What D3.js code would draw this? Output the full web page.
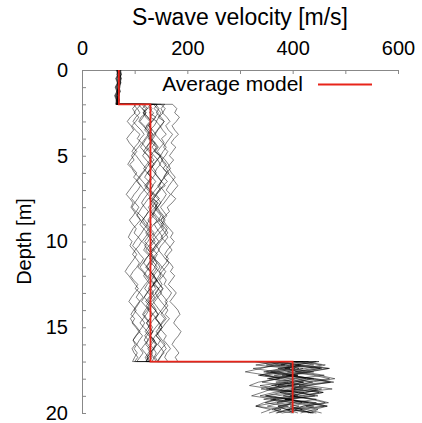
<!DOCTYPE html>
<html>
<head>
<meta charset="utf-8">
<script src="https://cdn.jsdelivr.net/npm/d3@7"></script>
<style>
  body { margin: 0; background: #fff; }
  svg text { font-family: "Liberation Sans", Arial, Helvetica, sans-serif; fill: #000; }
  .axis path, .axis line { stroke: #888; stroke-width: 1; }
</style>
</head>
<body>
<div id="viz"><svg width="422" height="423"></svg></div>
<script>
// sample depths shared by every profile (duplicates at 2 m and 17 m give the jumps)
const topDepths = d3.range(0, 2.001, 0.25)
const midDepths = d3.range(2, 17.001, 0.25)
const botDepths = d3.range(17, 20.001, 0.2)
const depths = topDepths.concat(midDepths, botDepths)

// individual models, m/s
// shallow layer 0-2 m
const topVals = [
  [71,73,70,72,69,68,70,67,69],
  [68,72,74,69,71,66,68,65,67],
  [74,71,75,72,70,73,69,71,68],
  [66,69,65,68,64,67,63,66,65],
  [72,70,73,68,71,67,69,66,68],
  [70,74,71,73,69,71,68,70,67],
  [65,68,64,67,63,66,62,65,64],
  [69,66,70,67,71,68,66,69,66],
  [73,75,72,74,70,72,69,71,70],
  [68,71,67,70,66,69,65,68,66],
  [67,70,66,69,65,68,64,67,65],
  [71,74,70,73,72,70,71,68,70],
  [69,67,71,68,70,67,69,66,68],
  [70,68,72,69,67,70,66,68,67],
  [72,69,73,70,68,71,67,69,66],
  [67,70,68,71,69,66,70,67,69]
]

// middle layer 2-17 m
const midVals = [
  [118,124,116,121,129,122,127,135,128,133,141,136,130,137,126,131,124,119,127,122,130,138,133,145,139,131,136,128,123,131,126,120,114,122,117,125,132,127,121,129,136,142,135,140,133,127,121,128,124,117,123,130,126,134,129,138,132,125,130,123,127],
  [150,158,153,161,167,159,164,172,166,160,155,163,158,151,157,165,170,177,171,165,160,168,162,156,149,155,161,154,159,166,173,168,175,169,162,157,164,159,152,147,154,160,156,163,170,165,158,163,156,150,157,151,146,153,160,155,162,168,161,157,163],
  [172,180,176,185,179,171,176,183,175,169,178,172,166,174,167,160,165,157,151,158,146,140,147,138,143,135,141,148,136,130,137,129,134,127,121,128,135,131,139,133,126,131,124,119,126,133,128,136,141,134,129,123,130,125,119,126,121,128,134,127,122],
  [98,104,99,108,102,95,101,110,105,113,107,100,94,99,91,97,104,98,106,112,118,111,106,100,95,102,97,90,96,103,99,107,113,108,101,96,103,109,104,97,92,98,106,101,110,116,109,103,98,93,100,95,102,108,115,109,104,99,105,100,96],
  [127,133,128,140,134,126,131,124,129,137,143,137,149,142,135,130,124,131,126,119,125,133,128,136,142,138,131,125,132,127,121,128,135,141,147,140,134,128,123,130,137,132,139,145,151,144,138,131,126,133,129,122,128,135,130,137,142,136,129,124,130],
  [132,127,136,130,142,137,129,134,128,139,145,139,147,153,160,154,163,170,176,182,175,169,178,171,162,166,158,150,155,146,140,134,139,131,126,133,128,137,143,138,132,140,135,146,141,133,128,122,129,135,141,147,140,134,129,136,142,137,131,136,141],
  [103,96,101,92,86,93,98,91,85,90,97,104,98,92,87,95,100,108,102,96,90,84,91,97,93,99,106,111,104,97,92,88,95,91,98,104,99,93,87,82,89,95,101,107,100,94,89,96,103,98,92,97,104,110,103,97,101,95,99,106,100],
  [114,121,116,125,131,124,119,127,133,128,122,117,125,130,137,131,126,133,140,134,129,136,144,150,143,148,155,149,156,162,157,150,158,165,171,164,159,167,173,168,176,170,164,172,179,173,167,175,182,186,179,174,181,188,183,176,171,178,184,177,182],
  [143,137,145,139,132,127,134,140,135,129,123,130,137,144,149,142,138,145,151,146,139,133,128,134,126,131,138,143,137,142,148,153,146,140,134,129,136,142,138,146,150,144,137,131,136,129,125,132,139,145,140,147,152,145,139,134,129,136,141,137,133],
  [121,115,122,112,108,116,123,129,122,117,111,118,126,132,127,121,114,108,115,122,128,134,126,120,114,109,104,111,117,124,130,125,119,126,133,128,121,116,110,117,123,130,136,129,124,118,113,120,127,122,116,110,117,124,130,125,119,113,120,126,121],
  [136,143,150,145,156,151,144,139,146,153,160,154,149,143,137,131,138,144,151,147,154,160,155,149,144,138,133,141,147,152,158,163,157,150,145,152,158,165,159,152,146,141,148,154,149,156,162,157,151,145,139,146,152,147,141,148,155,160,153,149,144],
  [107,114,121,116,110,118,124,131,126,133,128,121,115,122,129,136,141,135,129,124,118,125,132,138,133,127,121,115,120,127,133,140,146,139,134,128,122,117,124,131,137,142,136,129,123,118,125,132,139,144,137,131,126,120,127,134,140,135,129,133,128],
  [130,124,118,125,131,127,133,126,120,114,120,127,134,129,123,117,124,131,128,135,130,124,118,113,119,126,121,115,110,117,124,130,125,119,126,133,139,134,128,122,117,123,130,126,133,138,132,126,120,115,121,128,134,129,123,118,125,131,126,120,124],
  [157,150,154,146,141,148,153,160,151,156,149,143,150,158,164,168,160,155,162,154,147,141,136,143,139,146,152,158,150,155,147,140,134,129,136,143,138,146,152,159,154,147,152,145,139,144,150,157,163,158,166,159,153,147,141,149,144,151,156,148,143],
  [112,105,110,102,97,104,112,118,111,107,100,95,103,109,115,122,116,110,104,111,106,99,94,101,108,103,112,119,125,118,113,107,101,96,104,110,117,112,106,115,121,127,120,114,108,103,110,105,99,106,113,119,114,108,102,97,104,110,116,110,104],
  [140,146,141,150,156,149,143,137,132,139,133,140,148,153,147,155,161,156,150,144,149,142,136,130,137,143,150,145,152,158,163,155,149,143,137,131,137,143,148,142,136,142,147,153,146,140,135,141,147,154,160,153,147,141,146,152,158,151,145,139,144]
]

// deep layer 17-20 m
const botVals = [
  [360,412,385,440,398,352,421,390,445,376,405,362,430,395,418,380],
  [420,378,455,402,365,430,470,395,350,412,448,386,425,460,398,440],
  [340,385,325,370,410,355,392,338,375,402,348,390,365,330,378,355],
  [395,440,372,418,460,405,368,430,475,410,382,445,400,372,428,455],
  [375,330,395,358,410,372,342,388,420,365,338,400,378,352,395,368],
  [450,405,470,432,388,445,478,420,398,458,430,392,440,465,415,435],
  [328,365,340,310,352,375,335,318,360,342,322,368,345,330,358,340],
  [410,455,425,390,440,470,418,398,448,425,395,435,462,420,405,445],
  [385,350,405,372,338,395,420,380,355,410,372,345,398,385,360,400],
  [365,402,380,345,392,425,388,360,405,378,350,395,418,372,388,410],
  [430,395,452,418,380,440,405,372,428,458,410,385,445,420,392,438],
  [350,388,412,368,335,380,402,362,340,385,410,375,348,392,365,380],
  [400,365,420,385,348,405,438,395,360,415,442,398,370,412,388,402],
  [420,462,438,405,450,480,435,412,455,428,400,442,468,425,448,430],
  [372,415,390,350,398,436,402,366,385,422,395,358,405,440,388,370],
  [445,410,468,425,392,438,472,430,402,450,418,386,432,466,440,415]
]

// average model
const avgDepths = [0, 2, 2, 17, 17, 20]
const avgVs = [70, 70, 130, 130, 400, 400]

const xTicks = [0, 100, 200, 300, 400, 500, 600]
const xLabels = [0, 200, 400, 600]
const yTicks = d3.range(0, 21, 1)
const yLabels = [0, 5, 10, 15, 20]

const svg = d3.select("#viz").select("svg")

const x = d3.scaleLinear().domain([0, 600]).range([82, 398])
const y = d3.scaleLinear().domain([0, 20]).range([70, 413])

// axes (top and left only)
const xAxis = svg.append("g")
    .attr("class", "axis")
    .attr("transform", "translate(0," + y(0) + ")")
    .call(d3.axisTop(x).tickValues(xTicks).tickSizeInner(-4).tickSizeOuter(0)
        .tickFormat(d => xLabels.includes(d) ? d : ""))
xAxis.selectAll("text")
    .attr("y", -15)
    .style("font-size", "20px")

const yAxis = svg.append("g")
    .attr("class", "axis")
    .attr("transform", "translate(" + x(0) + ",0)")
    .call(d3.axisLeft(y).tickValues(yTicks).tickSizeInner(-4).tickSizeOuter(0)
        .tickFormat(d => yLabels.includes(d) ? d : ""))
yAxis.selectAll("text")
    .attr("x", -14)
    .style("font-size", "20px")

const line = d3.line()
    .x(d => x(d[1]))
    .y(d => y(d[0]))

const profiles = topVals.map((t, i) => t.concat(midVals[i], botVals[i]))

svg.append("g")
    .selectAll("path")
    .data(profiles)
    .enter()
    .append("path")
    .attr("d", p => line(p.map((v, i) => [depths[i], v])))
    .attr("fill", "none")
    .attr("stroke", "#000")
    .attr("stroke-width", 0.5)

svg.append("path")
    .attr("d", line(avgVs.map((v, i) => [avgDepths[i], v])))
    .attr("fill", "none")
    .attr("stroke", "#e8241a")
    .attr("stroke-width", 1.8)

// legend
svg.append("text")
    .attr("x", 303)
    .attr("y", 91)
    .attr("text-anchor", "end")
    .style("font-size", "21px")
    .text("Average model")
svg.append("line")
    .attr("x1", 318).attr("x2", 372)
    .attr("y1", 84.5).attr("y2", 84.5)
    .attr("stroke", "#e8241a")
    .attr("stroke-width", 1.8)

// titles
svg.append("text")
    .attr("x", 240)
    .attr("y", 25)
    .attr("text-anchor", "middle")
    .style("font-size", "23px")
    .text("S-wave velocity [m/s]")

svg.append("text")
    .attr("transform", "translate(31," + y(10) + ") rotate(-90)")
    .attr("text-anchor", "middle")
    .style("font-size", "20px")
    .text("Depth [m]")
</script>
</body>
</html>
